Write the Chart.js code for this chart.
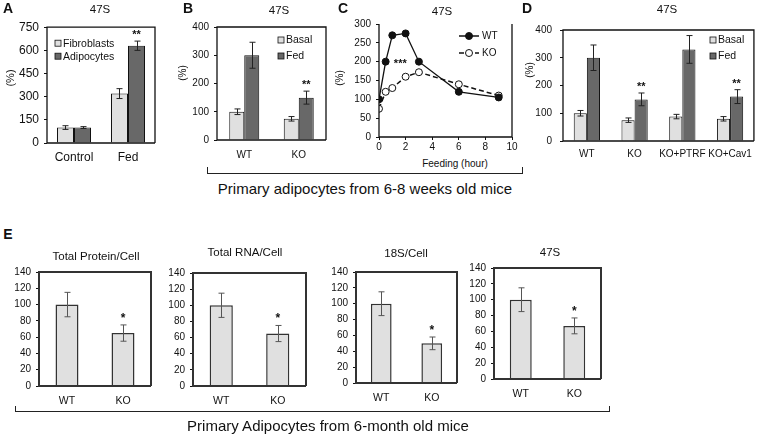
<!DOCTYPE html>
<html>
<head>
<meta charset="utf-8">
<script src="https://cdn.jsdelivr.net/npm/chart.js@4.4.0/dist/chart.umd.min.js"></script>
<style>
  body { margin: 0; background: #fff; }
  #fig { position: relative; width: 760px; height: 435px; overflow: hidden;
         font-family: "Liberation Sans", Arial, sans-serif; color: #111; }
  #fig canvas { position: absolute; }
  .t { position: absolute; white-space: nowrap; transform: translate(-50%, -50%); line-height: 1; }
  .rot { transform: translate(-50%, -50%) rotate(-90deg); }
  .letter { font-weight: bold; font-size: 14px; }
  .brk { position: absolute; border: 1.5px solid #222; border-top: none; }
</style>
</head>
<body>
<div id="fig">
  <canvas id="chartA"></canvas>
  <canvas id="chartB"></canvas>
  <canvas id="chartC"></canvas>
  <canvas id="chartD"></canvas>
  <canvas id="chartE1"></canvas>
  <canvas id="chartE2"></canvas>
  <canvas id="chartE3"></canvas>
  <canvas id="chartE4"></canvas>

  <div class="t letter" style="left:8px;top:8px">A</div>
  <div class="t" style="left:100px;top:10px;font-size:11.5px">47S</div>
  <div class="t rot" style="left:10px;top:78px;font-size:11px">(%)</div>

  <div class="t letter" style="left:188px;top:8px">B</div>
  <div class="t" style="left:279px;top:11px;font-size:11.5px">47S</div>
  <div class="t rot" style="left:183px;top:73px;font-size:10px">(%)</div>

  <div class="t letter" style="left:343px;top:8px">C</div>
  <div class="t" style="left:442px;top:12px;font-size:11.5px">47S</div>
  <div class="t rot" style="left:340px;top:78px;font-size:10px">(%)</div>
  <div class="t" style="left:455px;top:164px;font-size:10px">Feeding (hour)</div>

  <div class="t letter" style="left:527px;top:8px">D</div>
  <div class="t" style="left:667px;top:10px;font-size:11.5px">47S</div>
  <div class="t rot" style="left:530px;top:70px;font-size:10px">(%)</div>

  <div class="brk" style="left:207px;top:167px;width:314px;height:6px"></div>
  <div class="t" style="left:365px;top:188px;font-size:15px">Primary adipocytes from 6-8 weeks old mice</div>

  <div class="t letter" style="left:8px;top:234px">E</div>
  <div class="t" style="left:96px;top:257px;font-size:11.5px">Total Protein/Cell</div>
  <div class="t" style="left:245px;top:253px;font-size:11.5px">Total RNA/Cell</div>
  <div class="t" style="left:406px;top:254px;font-size:11.5px">18S/Cell</div>
  <div class="t" style="left:550px;top:253px;font-size:11.5px">47S</div>

  <div class="brk" style="left:15px;top:406px;width:593px;height:5px"></div>
  <div class="t" style="left:328px;top:425px;font-size:15px">Primary Adipocytes from 6-month old mice</div>
</div>

<script>
// ---- data ----
// A: fibroblasts vs adipocytes
const aCats = ['Control', 'Fed'];
const aFibro = [100, 320];
const aFibroErr = [12, 32];
const aAdipo = [100, 630];
const aAdipoErr = [6, 30];
const aStars = ['', '**'];

// B: WT vs KO, basal / fed
const bCats = ['WT', 'KO'];
const bBasal = [100, 75];
const bBasalErr = [10, 8];
const bFed = [300, 150];
const bFedErr = [46, 23];
const bStars = ['', '**'];

// C: time course after feeding
const cHours = [0, 0.5, 1, 2, 3, 6, 9];
const cWT = [100, 200, 270, 275, 200, 120, 105];
const cKO = [75, 120, 130, 160, 172, 140, 110];
const cStar = { x: 1.6, y: 185, text: '***' };

// D: rescue
const dCats = ['WT', 'KO', 'KO+PTRF', 'KO+Cav1'];
const dBasal = [100, 75, 88, 80];
const dBasalErr = [10, 8, 8, 8];
const dFed = [300, 150, 330, 160];
const dFedErr = [46, 23, 50, 25];
const dStars = ['', '**', '', '**'];

// E: 6-month old mice
const eCats = ['WT', 'KO'];
const eProtein = [100, 65];
const eProteinErr = [15, 10];
const eRNA = [100, 65];
const eRNAErr = [15, 10];
const e18S = [100, 50];
const e18SErr = [15, 8];
const e47S = [100, 67];
const e47SErr = [15, 10];
const eStars = ['', '*'];

const LIGHT = '#e0e0e0';
const DARK = '#686868';

Chart.defaults.font.family = '"Liberation Sans", Arial, sans-serif';
Chart.defaults.color = '#111';
Chart.defaults.animation = false;

// frame, error bars, stars and legend drawn on top of the bars
const decor = {
    id: 'decor',
    afterDatasetsDraw(chart, args, o) {
        const { ctx, chartArea: a } = chart;
        const x = chart.scales.x, y = chart.scales.y;
        ctx.save();

        chart.data.datasets.forEach((ds, i) => {
            if (!ds.errors) return;
            chart.getDatasetMeta(i).data.forEach((bar, j) => {
                const top = y.getPixelForValue(ds.data[j] + ds.errors[j]);
                const bot = y.getPixelForValue(ds.data[j] - ds.errors[j]);
                const px = Math.round(bar.x) + 0.5;
                ctx.strokeStyle = o.errColor;
                ctx.lineWidth = 1;
                ctx.beginPath();
                ctx.moveTo(px, top); ctx.lineTo(px, bot);
                ctx.moveTo(px - o.cap, top); ctx.lineTo(px + o.cap, top);
                ctx.moveTo(px - o.cap, bot); ctx.lineTo(px + o.cap, bot);
                ctx.stroke();
                const s = ds.stars && ds.stars[j];
                if (s) {
                    ctx.fillStyle = '#111';
                    ctx.font = o.starFont;
                    ctx.textAlign = 'center';
                    ctx.textBaseline = 'alphabetic';
                    ctx.fillText(s, bar.x, top - o.starGap);
                }
            });
        });

        if (o.note) {
            ctx.fillStyle = '#111';
            ctx.font = o.starFont;
            ctx.textAlign = 'center';
            ctx.fillText(o.note.text, x.getPixelForValue(o.note.x), y.getPixelForValue(o.note.y));
        }

        // box
        ctx.strokeStyle = o.color;
        ctx.lineWidth = o.width;
        ctx.beginPath();
        ctx.moveTo(a.right, a.bottom);
        ctx.lineTo(a.left, a.bottom);
        ctx.lineTo(a.left, a.top);
        if (o.noTop) ctx.moveTo(a.right, a.top); else ctx.lineTo(a.right, a.top);
        ctx.lineTo(a.right, a.bottom);
        ctx.stroke();

        // legend
        if (o.legend) {
            const L = o.legend;
            ctx.font = L.font;
            ctx.textBaseline = 'middle';
            ctx.textAlign = 'left';
            chart.data.datasets.forEach((ds, i) => {
                const lx = a.left + L.x, ly = a.top + L.y + i * L.dy;
                if (chart.config.type === 'bar') {
                    ctx.fillStyle = ds.backgroundColor;
                    ctx.fillRect(lx, ly - L.box / 2, L.box, L.box);
                    ctx.strokeStyle = '#111';
                    ctx.lineWidth = 0.8;
                    ctx.strokeRect(lx, ly - L.box / 2, L.box, L.box);
                    ctx.fillStyle = '#111';
                    ctx.fillText(ds.label, lx + L.box + 2, ly + 0.5);
                } else {
                    ctx.strokeStyle = '#111';
                    ctx.lineWidth = 1.5;
                    ctx.setLineDash(ds.borderDash || []);
                    ctx.beginPath();
                    ctx.moveTo(lx, ly); ctx.lineTo(lx + L.line, ly);
                    ctx.stroke();
                    ctx.setLineDash([]);
                    ctx.beginPath();
                    ctx.arc(lx + L.line / 2, ly, 3.5, 0, Math.PI * 2);
                    ctx.fillStyle = ds.pointBackgroundColor;
                    ctx.fill();
                    ctx.lineWidth = 1;
                    ctx.stroke();
                    ctx.fillStyle = '#111';
                    ctx.fillText(ds.label, lx + L.line + 3, ly + 0.5);
                }
            });
        }
        ctx.restore();
    }
};

// size and place a canvas so that its plot area lands on the box
function place(id, box) {
    const c = document.getElementById(id);
    c.width = box.r - box.l + box.yw + box.pr;
    c.height = box.b - box.t + box.pt + box.xh;
    c.style.left = (box.l - box.yw) + 'px';
    c.style.top = (box.t - box.pt) + 'px';
    return c;
}

function yAxis(box, max, step, size, pad) {
    return {
        min: 0, max: max,
        ticks: { stepSize: step, font: { size: size }, padding: pad, color: '#111' },
        grid: { display: true, drawOnChartArea: false, tickLength: 3, color: '#111' },
        border: { display: false },
        afterFit(s) { s.width = box.yw; }
    };
}

function barChart(id, box, cats, sets, y, xFont, xPad, deco) {
    return new Chart(place(id, box), {
        type: 'bar',
        data: { labels: cats, datasets: sets },
        options: {
            responsive: false,
            devicePixelRatio: 1,
            layout: { padding: { top: box.pt, right: box.pr, left: 0, bottom: 0 } },
            plugins: { legend: { display: false }, tooltip: { enabled: false }, decor: deco },
            scales: {
                x: {
                    grid: { display: false, drawTicks: false },
                    border: { display: false },
                    ticks: { font: { size: xFont }, padding: xPad, color: '#111', maxRotation: 0, autoSkip: false },
                    afterFit(s) { s.height = box.xh; }
                },
                y: y
            }
        },
        plugins: [decor]
    });
}

function barSet(label, data, errors, stars, color, catPct, border) {
    return {
        label: label, data: data, errors: errors, stars: stars,
        backgroundColor: color,
        borderColor: border || '#111',
        borderWidth: border ? 1.5 : 1,
        categoryPercentage: catPct,
        barPercentage: 1
    };
}

// ---- A ----
const boxA = { l: 47, t: 24, r: 155, b: 143, yw: 40, pt: 9, pr: 4, xh: 26 };
barChart('chartA', boxA, aCats, [
    barSet('Fibroblasts', aFibro, aFibroErr, null, LIGHT, 0.63),
    barSet('Adipocytes', aAdipo, aAdipoErr, aStars, DARK, 0.63)
], yAxis(boxA, 750, 150, 12, 5), 12, 7, {
    color: '#111', width: 1.3, errColor: '#222', cap: 3, starFont: 'bold 11px "Liberation Sans"', starGap: 3,
    legend: { x: 8, y: 16, dy: 13, box: 6, font: '10.5px "Liberation Sans"' }
});

// ---- B ----
const boxB = { l: 217, t: 24, r: 326, b: 140, yw: 34, pt: 8, pr: 4, xh: 26 };
barChart('chartB', boxB, bCats, [
    barSet('Basal', bBasal, bBasalErr, null, LIGHT, 0.55),
    barSet('Fed', bFed, bFedErr, bStars, DARK, 0.55)
], yAxis(boxB, 400, 100, 10, 5), 10, 9, {
    color: '#111', width: 1.3, errColor: '#222', cap: 3, starFont: 'bold 11px "Liberation Sans"', starGap: 3,
    legend: { x: 61, y: 13, dy: 16, box: 6, font: '10.5px "Liberation Sans"' }
});

// ---- C ----
const boxC = { l: 379, t: 21, r: 512, b: 137, yw: 32, pt: 8, pr: 10, xh: 20 };
new Chart(place('chartC', boxC), {
    type: 'line',
    data: {
        datasets: [
            {
                label: 'WT',
                data: cHours.map((h, i) => ({ x: h, y: cWT[i] })),
                borderColor: '#111', borderWidth: 1.3,
                pointRadius: 3.5, pointBackgroundColor: '#111', pointBorderColor: '#111', pointBorderWidth: 1
            },
            {
                label: 'KO',
                data: cHours.map((h, i) => ({ x: h, y: cKO[i] })),
                borderColor: '#111', borderWidth: 1.5, borderDash: [5, 3],
                pointRadius: 3.5, pointBackgroundColor: '#fff', pointBorderColor: '#111', pointBorderWidth: 1
            }
        ]
    },
    options: {
        responsive: false,
        devicePixelRatio: 1,
        layout: { padding: { top: boxC.pt, right: boxC.pr, left: 0, bottom: 0 } },
        plugins: {
            legend: { display: false }, tooltip: { enabled: false },
            decor: {
                color: '#111', width: 1.3, noTop: true, errColor: '#222', cap: 3,
                starFont: 'bold 11px "Liberation Sans"', starGap: 3, note: cStar,
                legend: { x: 80, y: 12, dy: 17, line: 20, font: '10px "Liberation Sans"' }
            }
        },
        scales: {
            x: {
                type: 'linear', min: 0, max: 10,
                ticks: { stepSize: 2, font: { size: 10 }, padding: 1, color: '#111', maxRotation: 0 },
                grid: { display: true, drawOnChartArea: false, tickLength: 3, color: '#111' },
                border: { display: false },
                afterFit(s) { s.height = boxC.xh; }
            },
            y: yAxis(boxC, 300, 50, 10, 5)
        }
    },
    plugins: [decor]
});

// ---- D ----
const boxD = { l: 563, t: 24, r: 758, b: 141, yw: 34, pt: 8, pr: 1, xh: 26 };
barChart('chartD', boxD, dCats, [
    barSet('Basal', dBasal, dBasalErr, null, LIGHT, 0.55),
    barSet('Fed', dFed, dFedErr, dStars, DARK, 0.55)
], yAxis(boxD, 400, 100, 10, 8), 10, 7, {
    color: '#111', width: 1.3, errColor: '#222', cap: 3, starFont: 'bold 11px "Liberation Sans"', starGap: 3,
    legend: { x: 147, y: 10, dy: 16, box: 6, font: '10.5px "Liberation Sans"' }
});

// ---- E ----
const eDeco = {
    color: '#333', width: 2, errColor: '#555', cap: 3, starFont: 'bold 12px "Liberation Sans"', starGap: 3
};
const eBoxes = [
    { l: 39, t: 269, r: 151, b: 386, yw: 36, pt: 8, pr: 4, xh: 24 },
    { l: 193, t: 270, r: 306, b: 386, yw: 36, pt: 8, pr: 4, xh: 24 },
    { l: 356, t: 269, r: 457, b: 383, yw: 36, pt: 8, pr: 4, xh: 24 },
    { l: 494, t: 265, r: 601, b: 379, yw: 36, pt: 8, pr: 4, xh: 24 }
];
const eSeries = [[eProtein, eProteinErr], [eRNA, eRNAErr], [e18S, e18SErr], [e47S, e47SErr]];
eSeries.forEach(([vals, errs], k) => {
    const box = eBoxes[k];
    barChart('chartE' + (k + 1), box, eCats, [
        barSet('', vals, errs, eStars, LIGHT, 0.41, '#333')
    ], yAxis(box, 140, 20, 10, 5), 10.5, 9, eDeco);
});
</script>
</body>
</html>
